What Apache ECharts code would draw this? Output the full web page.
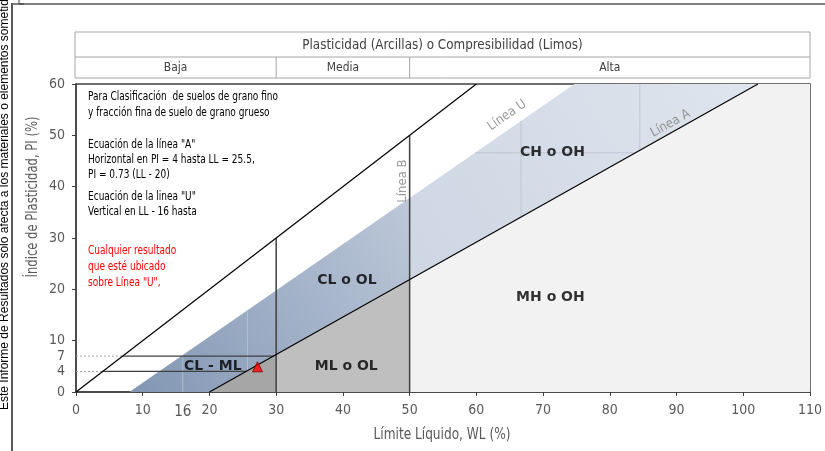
<!DOCTYPE html>
<html>
<head>
<meta charset="utf-8">
<script src="https://cdn.jsdelivr.net/npm/echarts@6/dist/echarts.min.js"></script>
<style>
  html, body { margin: 0; padding: 0; background: #fff; }
  #chart { width: 825px; height: 451px; }
</style>
</head>
<body>
<div id="chart"></div>
<script>
// Carta de plasticidad de Casagrande
const FONT = '"DejaVu Sans Condensed", sans-serif'

// marcas de los ejes
const xLabels = [0, 10, 16, 20, 30, 40, 50, 60, 70, 80, 90, 100, 110]
const xTicks = [0, 10, 20, 30, 40, 50, 60, 70, 80, 90, 100, 110]
const yLabels = [0, 4, 7, 10, 20, 30, 40, 50, 60]
const yTicks = [0, 10, 20, 30, 40, 50, 60]

// lineas [LL, PI]
const lineaDiagonal = [[0, 0], [60, 60]]
const lineaA = [[20, 0], [102.2, 60]]
const lineaB30 = [[30, 0], [30, 30]]
const lineaB50 = [[50, 0], [50, 50]]
const horizontal7 = [[7, 7], [29.6, 7]]
const horizontal4 = [[4, 4], [25.5, 4]]
const punteada7 = [[0, 7], [7, 7]]
const punteada4 = [[0, 4], [4, 4]]
const tenues = [
  [[16, 0], [16, 7.2]],
  [[25.7, 4.2], [25.7, 15.9]],
  [[47.3, 19.9], [47.3, 35.4]],
  [[66.7, 34.1], [66.7, 52.8]],
  [[84.5, 47.1], [84.5, 60]],
  [[59.8, 46.6], [83.8, 46.6]]
]

// zonas
const zonaCL = [[8, 0], [50, 37.8], [50, 21.9], [20, 0]]
const zonaCH = [[50, 37.8], [74.7, 60], [102.2, 60], [50, 21.9]]
const zonaCLML = [[20, 0], [30, 7.3], [30, 0]]
const zonaML = [[30, 0], [30, 7.3], [50, 21.9], [50, 0]]
const zonaMH = [[50, 0], [50, 21.9], [102.2, 60], [110, 60], [110, 0]]

// etiquetas [texto, LL, PI]
const etiquetasZona = [
  ['CH o OH', 71.4, 46.7],
  ['CL o OL', 40.6, 21.8],
  ['MH o OH', 71.1, 18.4],
  ['ML o OL', 40.5, 5.0],
  ['CL - ML', 20.5, 5.0]
]
const etiquetasLinea = [
  ['Línea U', 64.6, 53.9, 35],
  ['Línea A', 89.1, 52.3, 29],
  ['Línea B', 49.0, 41.1, 90]
]

// resultado del ensayo
const resultado = [[27.2, 4.9]]

const notas = [
  ['Para Clasificación  de suelos de grano fino', 97, '#000'],
  ['y fracción fina de suelo de grano grueso', 113, '#000'],
  ['Ecuación de la línea "A"', 145, '#000'],
  ['Horizontal en PI = 4 hasta LL = 25.5,', 160, '#000'],
  ['PI = 0.73 (LL - 20)', 175, '#000'],
  ['Ecuación de la linea "U"', 197, '#000'],
  ['Vertical en LL - 16 hasta', 212, '#000'],
  ['Cualquier resultado', 251, '#ff0000'],
  ['que esté ubicado', 267, '#ff0000'],
  ['sobre Línea "U",', 283, '#ff0000']
]

const zona = (puntos, fill) => ({
  type: 'custom',
  silent: true,
  data: [0],
  renderItem: (params, api) => ({
    type: 'polygon',
    shape: { points: puntos.map(p => api.coord(p)) },
    style: { fill: fill }
  }),
  z: 1
})

const linea = (puntos, color, width, type, z) => ({
  type: 'line',
  data: puntos,
  symbol: 'none',
  silent: true,
  lineStyle: { color: color, width: width, type: type || 'solid' },
  z: z || 3
})

const myChart = echarts.init(document.getElementById('chart'))

const series = [
  zona(zonaCL, new echarts.graphic.LinearGradient(0, 1, 1, 0, [
    { offset: 0, color: '#8296b3' },
    { offset: 0.6, color: '#a5b4ca' },
    { offset: 1, color: '#bdc8d9' }
  ])),
  zona(zonaCH, new echarts.graphic.LinearGradient(0, 1, 1, 0, [
    { offset: 0, color: '#cdd6e3' },
    { offset: 1, color: '#dfe5ee' }
  ])),
  zona(zonaCLML, '#a6a6a6'),
  zona(zonaML, '#bfbfbf'),
  zona(zonaMH, '#f2f2f2'),
  ...tenues.map(t => linea(t, '#b9c2d0', 0.8, 'solid', 2)),
  linea(punteada7, '#a0a0a0', 1, [2, 2]),
  linea(punteada4, '#a0a0a0', 1, [2, 2]),
  linea(horizontal7, '#404040', 1.3),
  linea(horizontal4, '#404040', 1.3),
  linea(lineaB30, '#404040', 1.5),
  linea(lineaB50, '#404040', 1.5),
  linea(lineaDiagonal, '#000', 1.2),
  linea(lineaA, '#000', 1.2),
  {
    type: 'scatter',
    silent: true,
    symbolSize: 0,
    data: etiquetasZona.map(e => ({ name: e[0], value: [e[1], e[2]] })),
    label: {
      show: true,
      position: 'inside',
      formatter: '{b}',
      color: '#000',
      fontFamily: 'DejaVu Sans',
      fontWeight: 900,
      fontSize: 14
    },
    z: 5
  },
  {
    type: 'scatter',
    silent: true,
    symbolSize: 0,
    data: etiquetasLinea.map(e => ({
      name: e[0],
      value: [e[1], e[2]],
      label: { rotate: e[3] }
    })),
    label: {
      show: true,
      position: 'inside',
      formatter: '{b}',
      color: '#7f7f7f',
      fontFamily: FONT,
      fontSize: 13
    },
    z: 5
  },
  {
    type: 'scatter',
    silent: true,
    symbol: 'triangle',
    symbolSize: 10,
    data: resultado,
    itemStyle: { color: '#ff0000', borderColor: '#7a0000', borderWidth: 1 },
    z: 6
  }
]

myChart.setOption({
  animation: false,
  grid: {
    left: 76, right: 15, top: 84, bottom: 59,
    show: true, borderColor: '#404040', borderWidth: 1.5, backgroundColor: '#fff'
  },
  xAxis: {
    type: 'value',
    min: 0, max: 110, interval: 10,
    axisLine: { onZero: false, lineStyle: { color: '#404040', width: 1.5 } },
    axisTick: { customValues: xTicks, length: 4, lineStyle: { color: '#404040' } },
    axisLabel: {
      customValues: xLabels,
      color: '#595959', fontFamily: FONT, fontSize: 14, margin: 11,
      formatter: v => v === 16 ? '{d|16}' : String(v),
      rich: { d: { color: '#595959', fontFamily: FONT, fontSize: 15, padding: [2, 0, 0, 0] } }
    },
    splitLine: { show: false }
  },
  yAxis: {
    type: 'value',
    min: 0, max: 60, interval: 10,
    axisLine: { show: true, lineStyle: { color: '#404040', width: 1.5 } },
    axisTick: { show: true, customValues: yTicks, length: 4, lineStyle: { color: '#404040' } },
    axisLabel: {
      customValues: yLabels,
      color: '#595959', fontFamily: FONT, fontSize: 14, margin: 11
    },
    splitLine: { show: false }
  },
  series: series
})

// encabezado y textos en pixeles
const px30 = myChart.convertToPixel({ xAxisIndex: 0 }, 30)
const px50 = myChart.convertToPixel({ xAxisIndex: 0 }, 50)
const x0 = 75, x1 = 810, yTop = 32, yMid = 57, yBot = 78
const gris = '#a6a6a6'
const txt = (text, x, y, opts, escala) => ({
  type: 'text', x: x, y: y, scaleX: escala || 0.92,
  style: Object.assign({ text: text, fontFamily: FONT, fontSize: 13, fill: '#404040',
    align: 'center', verticalAlign: 'middle' }, opts || {})
})

myChart.setOption({
  graphic: [
    // marco de la pagina
    { type: 'line', shape: { x1: 12, y1: 4, x2: 825, y2: 4 }, style: { stroke: '#7f7f7f', lineWidth: 2 } },
    { type: 'line', shape: { x1: 12, y1: 3, x2: 12, y2: 451 }, style: { stroke: '#595959', lineWidth: 2 } },
    { type: 'polyline', shape: { points: [[19, 0], [19, 4], [24, 4]] }, style: { stroke: '#404040', lineWidth: 1, fill: null } },
    {
      type: 'text', x: 5, y: 410, rotation: Math.PI / 2,
      style: { text: 'Este Informe de Resultados sólo afecta a los materiales o elementos sometidos a ensayo',
        fontFamily: '"Liberation Sans", Arial, sans-serif', fontSize: 12, fill: '#000',
        align: 'left', verticalAlign: 'middle' }
    },
    // tabla de encabezado
    { type: 'rect', shape: { x: x0, y: yTop, width: x1 - x0, height: yBot - yTop }, style: { fill: '#fff', stroke: gris, lineWidth: 1 } },
    { type: 'line', shape: { x1: x0, y1: yMid, x2: x1, y2: yMid }, style: { stroke: gris, lineWidth: 1 } },
    { type: 'line', shape: { x1: px30, y1: yMid, x2: px30, y2: yBot }, style: { stroke: gris, lineWidth: 1 } },
    { type: 'line', shape: { x1: px50, y1: yMid, x2: px50, y2: yBot }, style: { stroke: gris, lineWidth: 1 } },
    txt('Plasticidad (Arcillas) o Compresibilidad (Limos)', (x0 + x1) / 2, 45, { fontSize: 14 }, 0.95),
    txt('Baja', (x0 + px30) / 2, 68),
    txt('Media', (px30 + px50) / 2, 68),
    txt('Alta', (px50 + x1) / 2, 68),
    // nombres de ejes
    txt('Límite Líquido, WL (%)', 442, 435, { fontSize: 15, fill: '#595959' }, 0.9),
    Object.assign(txt('Índice de Plasticidad, PI (%)', 33, 197, { fontSize: 15, fill: '#595959' }, 0.86), { rotation: Math.PI / 2 }),
    // notas
    ...notas.map(n => txt(n[0], 88, n[1], { align: 'left', fontSize: 12.5, fill: n[2] }, 0.8))
  ]
})
</script>
</body>
</html>
